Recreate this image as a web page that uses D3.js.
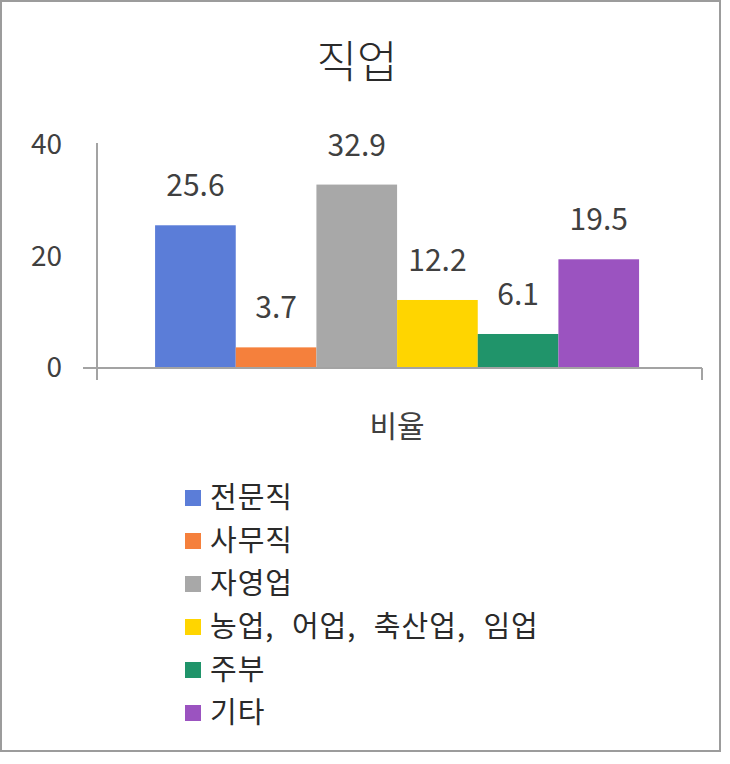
<!DOCTYPE html>
<html>
<head>
<meta charset="utf-8">
<script src="https://cdn.jsdelivr.net/npm/d3@7"></script>
<style>
  body { margin: 0; background: #fff; }
  svg { display: block; font-family: "Noto Sans CJK KR", "Noto Sans", sans-serif; }
</style>
</head>
<body>
<svg id="chart"></svg>
<script>
// chart data
const categories = ["비율"];
const seriesNames = ["전문직", "사무직", "자영업", "농업, 어업, 축산업, 임업", "주부", "기타"];
const values = [25.6, 3.7, 32.9, 12.2, 6.1, 19.5];
const colors = ["#5b7dd8", "#f5803c", "#a8a8a8", "#ffd500", "#20946a", "#9b53c0"];
const yTicks = [0, 20, 40];
const title = "직업";

const width = 730, height = 764;
const margin = { top: 145, right: 28, bottom: 396, left: 97 };
const innerWidth = width - margin.left - margin.right;
const innerHeight = height - margin.top - margin.bottom;
const axisColor = "#a3a3a3";
const textColor = "#404040";

const svg = d3.select("#chart").attr("width", width).attr("height", height);

// outer frame
svg.append("rect")
  .attr("x", 1).attr("y", 1)
  .attr("width", 719).attr("height", 750)
  .attr("fill", "none")
  .attr("stroke", "#9c9c9c")
  .attr("stroke-width", 2);

svg.append("text")
  .attr("x", 357).attr("y", 78)
  .attr("text-anchor", "middle")
  .attr("font-size", 44)
  .attr("font-weight", 300)
  .attr("fill", "#2a2a2a")
  .text(title);

const g = svg.append("g").attr("transform", `translate(${margin.left},${margin.top})`);

const x0 = d3.scaleBand().domain(categories).range([0, innerWidth])
  .paddingInner(0).paddingOuter(0.125).align(0.48);
const x1 = d3.scaleBand().domain(seriesNames).range([0, x0.bandwidth()]);
const y = d3.scaleLinear().domain([0, 40]).range([innerHeight, 0]);

// y axis: labels only, line drawn separately
const yAxis = g.append("g")
  .call(d3.axisLeft(y).tickValues(yTicks).tickSize(0).tickPadding(35));
yAxis.select(".domain").remove();
yAxis.selectAll("text")
  .attr("font-size", 28)
  .attr("font-family", "Noto Sans CJK KR")
  .attr("fill", textColor);

g.append("line")
  .attr("x1", 0).attr("x2", 0)
  .attr("y1", y(40) - 2).attr("y2", innerHeight + 12)
  .attr("stroke", axisColor).attr("stroke-width", 2);

// bars
const groups = g.selectAll(".cat")
  .data(categories)
  .join("g")
  .attr("class", "cat")
  .attr("transform", d => `translate(${x0(d)},0)`);

groups.selectAll("rect")
  .data(seriesNames.map((s, i) => ({ name: s, value: values[i], color: colors[i] })))
  .join("rect")
  .attr("x", d => x1(d.name))
  .attr("y", d => y(d.value))
  .attr("width", x1.bandwidth())
  .attr("height", d => innerHeight - y(d.value))
  .attr("fill", d => d.color);

groups.selectAll(".val")
  .data(seriesNames.map((s, i) => ({ name: s, value: values[i] })))
  .join("text")
  .attr("class", "val")
  .attr("x", d => x1(d.name) + x1.bandwidth() / 2)
  .attr("y", d => y(d.value) - 29)
  .attr("text-anchor", "middle")
  .attr("font-size", 30)
  .attr("fill", textColor)
  .text(d => d.value.toFixed(1));

// x axis baseline with end ticks
g.append("line")
  .attr("x1", -14).attr("x2", innerWidth)
  .attr("y1", innerHeight).attr("y2", innerHeight)
  .attr("stroke", axisColor).attr("stroke-width", 2);
g.append("line")
  .attr("x1", innerWidth).attr("x2", innerWidth)
  .attr("y1", innerHeight).attr("y2", innerHeight + 12)
  .attr("stroke", axisColor).attr("stroke-width", 2);

g.selectAll(".cat-label")
  .data(categories)
  .join("text")
  .attr("class", "cat-label")
  .attr("x", d => x0(d) + x0.bandwidth() / 2)
  .attr("y", innerHeight + 69)
  .attr("text-anchor", "middle")
  .attr("font-size", 30)
  .attr("fill", textColor)
  .text(d => d);

// legend
const legend = svg.append("g").attr("transform", "translate(185,498)");
const rows = legend.selectAll("g")
  .data(seriesNames)
  .join("g")
  .attr("transform", (d, i) => `translate(0,${i * 43})`);

rows.append("rect")
  .attr("x", 0).attr("y", -8)
  .attr("width", 16).attr("height", 16)
  .attr("fill", (d, i) => colors[i]);

rows.append("text")
  .attr("x", 25).attr("y", 0)
  .attr("dy", "0.35em")
  .attr("font-size", 29)
  .attr("letter-spacing", 1)
  .attr("word-spacing", 10)
  .attr("fill", "#2a2a2a")
  .text(d => d);
</script>
</body>
</html>
